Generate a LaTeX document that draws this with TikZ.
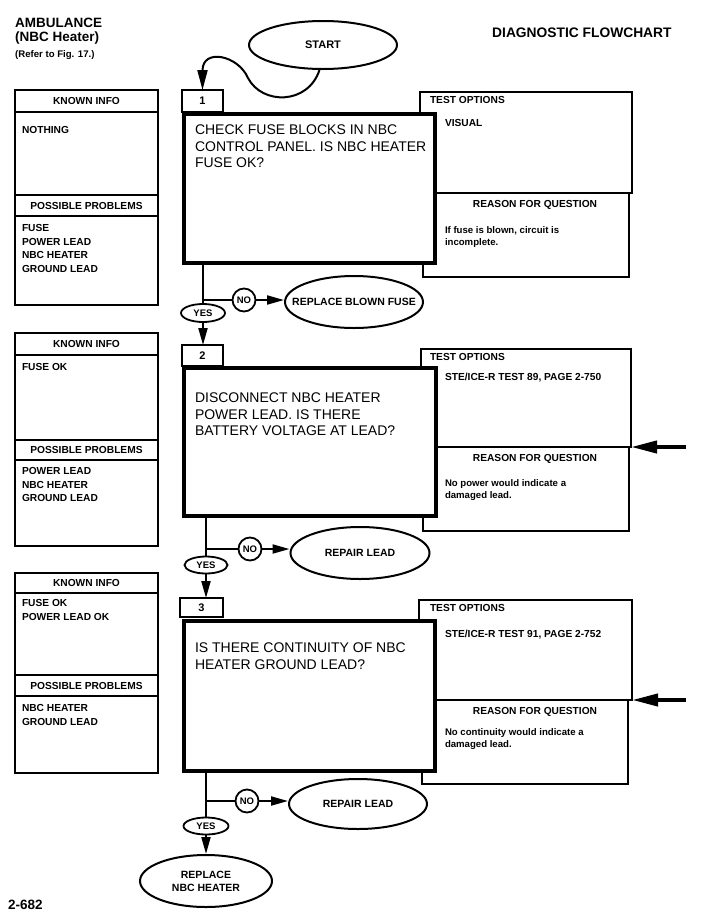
\documentclass[tikz,border=0pt]{standalone}
\usepackage{fontspec}
\setmainfont{Liberation Sans}
\usetikzlibrary{arrows.meta,shapes.geometric,calc}
\newcommand{\fsb}{\bfseries\fontsize{10.2}{13.5}\selectfont}
\newcommand{\fbody}{\bfseries\fontsize{9.6}{12.5}\selectfont}
\newcommand{\fq}{\fontsize{14}{16.5}\selectfont}
\begin{document}
\begin{tikzpicture}[x=1pt,y=-1pt,
  box/.style={draw, rectangle, fill=white, line width=1.6pt, inner sep=0pt, outer sep=0pt, anchor=north west},
  mainbox/.style={box, line width=4.5pt},
  numbox/.style={box, line width=1.4pt, font=\bfseries\fontsize{11}{13}\selectfont},
  oval/.style={draw, ellipse, line width=2pt, inner xsep=-30pt, inner ysep=-4pt, fill=white, align=center, font=\bfseries\fontsize{10.5}{13}\selectfont},
  yesoval/.style={draw, ellipse, line width=1.8pt, inner sep=0pt, fill=white, font=\bfseries\fontsize{9.5}{11}\selectfont},
  nocirc/.style={draw, circle, line width=1.8pt, minimum size=23pt, inner sep=0pt, fill=white, font=\bfseries\fontsize{9.5}{11}\selectfont},
  conn/.style={line width=2pt},
  flow/.style={conn, -{Triangle[length=17pt,width=9pt]}},
  bigarrow/.style={line width=4pt, -{Triangle[length=26pt,width=12pt]}},
  txt/.style={inner sep=0pt, outer sep=0pt, align=left, font=\fsb},
  bodytxt/.style={inner sep=0pt, outer sep=0pt, align=left, font=\fbody},
  qtext/.style={inner sep=0pt, outer sep=0pt, align=left, font=\fq},
]
\fill[white] (0,0) rectangle (701,919);
\useasboundingbox (0,0) rectangle (701,919);

% titles
\node[anchor=base west, inner sep=0pt, font=\bfseries\fontsize{13.5}{15}\selectfont] (t1) at (15,27) {AMBULANCE};
\node[anchor=base west, inner sep=0pt, font=\bfseries\fontsize{13.5}{15}\selectfont] (t2) at (15,41.5) {(NBC Heater)};
\node[anchor=base west, inner sep=0pt, font=\bfseries\fontsize{9.6}{11}\selectfont] (t3) at (15,57) {(Refer to Fig. 17.)};
\node[anchor=base west, inner sep=0pt, font=\bfseries\fontsize{13.8}{15}\selectfont] (dt) at (492,37.5) {DIAGNOSTIC FLOWCHART};
\node[anchor=base west, inner sep=0pt, font=\bfseries\fontsize{13.5}{15}\selectfont] (pg) at (8,909.6) {2-682};

% START
\node[oval, minimum width=148pt, minimum height=48pt, font=\bfseries\fontsize{11}{13}\selectfont] (start) at (323,45) {START};

% ---------- section 1 ----------
\node[box, minimum width=143pt, minimum height=22pt, font=\fsb] (kh1) at (15,90) {KNOWN INFO};
\node[box, minimum width=143pt, minimum height=83pt] (kb1) at (15,112) {};
\node[box, minimum width=143pt, minimum height=21pt, font=\fsb] (ph1) at (15,195) {POSSIBLE PROBLEMS};
\node[box, minimum width=143pt, minimum height=89pt] (pb1) at (15,216) {};
\node[txt, anchor=north west] (k1t) at (22,126.5) {NOTHING};
\node[txt, anchor=north west] (p1t) at (22,224.5) {FUSE\\POWER LEAD\\NBC HEATER\\GROUND LEAD};

\node[box, minimum width=212pt, minimum height=101pt] (to1) at (420,92) {};
\node[box, minimum width=206pt, minimum height=84pt] (rb1) at (423,193) {};
\node[numbox, minimum width=41pt, minimum height=22pt] (nb1) at (182,90) {1};
\node[mainbox, minimum width=251pt, minimum height=149pt] (m1) at (184,114) {};
\node[qtext, anchor=north west] (q1) at (195,125) {CHECK FUSE BLOCKS IN NBC\\CONTROL PANEL. IS NBC HEATER\\FUSE OK?};
\node[txt, anchor=base west] (to1l) at (430,103.7) {TEST OPTIONS};
\node[txt, anchor=base west] (to1c) at (445,126.6) {VISUAL};
\node[txt, anchor=base] (rb1l) at (535,207.7) {REASON FOR QUESTION};
\node[bodytxt, anchor=north west] (rb1c) at (445,226.5) {If fuse is blown, circuit is\\incomplete.};

\draw[conn, -{Triangle[length=20pt,width=10pt]}] (start.262) .. controls (308,105) and (262,105) .. (248,78) .. controls (238,55) and (202.5,48) .. (nb1.north);

\node[yesoval, minimum width=44pt, minimum height=18pt] (y1) at (203,313) {YES};
\node[nocirc] (no1) at (244,300) {NO};
\node[oval, minimum width=138pt, minimum height=52pt] (e1) at (354,302) {REPLACE BLOWN FUSE};
\coordinate (j1) at (y1.north |- no1.west);
\draw[conn] (m1.south -| y1.north) -- (y1.north);
\draw[conn] (j1) -- (no1.west);
\draw[flow] (no1.east) -- (e1.west |- no1.east);

% ---------- section 2 ----------
\node[box, minimum width=143pt, minimum height=22pt, font=\fsb] (kh2) at (15,333) {KNOWN INFO};
\node[box, minimum width=143pt, minimum height=85pt] (kb2) at (15,355) {};
\node[box, minimum width=143pt, minimum height=20pt, font=\fsb] (ph2) at (15,440) {POSSIBLE PROBLEMS};
\node[box, minimum width=143pt, minimum height=86pt] (pb2) at (15,460) {};
\node[txt, anchor=north west] (k2t) at (22,363.5) {FUSE OK};
\node[txt, anchor=north west] (p2t) at (22,467.5) {POWER LEAD\\NBC HEATER\\GROUND LEAD};

\node[box, minimum width=210pt, minimum height=98pt] (to2) at (421,349) {};
\node[box, minimum width=206pt, minimum height=84pt] (rb2) at (423,447) {};
\node[numbox, minimum width=41pt, minimum height=21pt] (nb2) at (182,345) {2};
\node[mainbox, minimum width=252pt, minimum height=148pt] (m2) at (184,368) {};
\node[qtext, anchor=north west] (q2) at (195,393) {DISCONNECT NBC HEATER\\POWER LEAD. IS THERE\\BATTERY VOLTAGE AT LEAD?};
\node[txt, anchor=base west] (to2l) at (430,360.7) {TEST OPTIONS};
\node[txt, anchor=base west] (to2c) at (445,380.6) {STE/ICE-R TEST 89, PAGE 2-750};
\node[txt, anchor=base] (rb2l) at (535,461.7) {REASON FOR QUESTION};
\node[bodytxt, anchor=north west] (rb2c) at (445,479.5) {No power would indicate a\\damaged lead.};
\coordinate (ra2) at (686,447);
\draw[bigarrow] (ra2) -- (to2.south east);

\draw[flow] (y1.south) -- (y1.south |- nb2.north);

\node[yesoval, minimum width=43pt, minimum height=17pt] (y2) at (206,565) {YES};
\node[nocirc] (no2) at (250,549) {NO};
\node[oval, minimum width=139pt, minimum height=52pt] (e2) at (360,553) {REPAIR LEAD};
\coordinate (j2) at (y2.north |- no2.west);
\draw[conn] (m2.south -| y2.north) -- (y2.north);
\draw[conn] (j2) -- (no2.west);
\draw[flow] (no2.east) -- (e2.west |- no2.east);

% ---------- section 3 ----------
\node[box, minimum width=143pt, minimum height=20pt, font=\fsb] (kh3) at (15,573) {KNOWN INFO};
\node[box, minimum width=143pt, minimum height=82pt] (kb3) at (15,593) {};
\node[box, minimum width=143pt, minimum height=21pt, font=\fsb] (ph3) at (15,675) {POSSIBLE PROBLEMS};
\node[box, minimum width=143pt, minimum height=77pt] (pb3) at (15,696) {};
\node[txt, anchor=north west] (k3t) at (22,599.5) {FUSE OK\\POWER LEAD OK};
\node[txt, anchor=north west] (p3t) at (22,704.5) {NBC HEATER\\GROUND LEAD};

\node[box, minimum width=213pt, minimum height=100pt] (to3) at (419,600) {};
\node[box, minimum width=206pt, minimum height=84pt] (rb3) at (422,700) {};
\node[numbox, minimum width=43pt, minimum height=19pt] (nb3) at (180,598) {3};
\node[mainbox, minimum width=251pt, minimum height=150pt] (m3) at (184,621) {};
\node[qtext, anchor=north west] (q3) at (195,643) {IS THERE CONTINUITY OF NBC\\HEATER GROUND LEAD?};
\node[txt, anchor=base west] (to3l) at (430,611.7) {TEST OPTIONS};
\node[txt, anchor=base west] (to3c) at (445,637.6) {STE/ICE-R TEST 91, PAGE 2-752};
\node[txt, anchor=base] (rb3l) at (535,714.7) {REASON FOR QUESTION};
\node[bodytxt, anchor=north west] (rb3c) at (445,728.5) {No continuity would indicate a\\damaged lead.};
\coordinate (ra3) at (686,700);
\draw[bigarrow] (ra3) -- (to3.south east);

\draw[flow] (y2.south) -- (y2.south |- nb3.north);

\node[yesoval, minimum width=45pt, minimum height=17pt] (y3) at (206,826) {YES};
\node[nocirc] (no3) at (247,801) {NO};
\node[oval, minimum width=138pt, minimum height=50pt] (e3) at (358,804) {REPAIR LEAD};
\coordinate (j3) at (y3.north |- no3.west);
\draw[conn] (m3.south -| y3.north) -- (y3.north);
\draw[conn] (j3) -- (no3.west);
\draw[flow] (no3.east) -- (e3.west |- no3.east);

\node[oval, minimum width=132pt, minimum height=52pt] (fin) at (206,881) {REPLACE\\NBC HEATER};
\draw[flow] (y3.south) -- (fin.north);
\end{tikzpicture}
\end{document}
